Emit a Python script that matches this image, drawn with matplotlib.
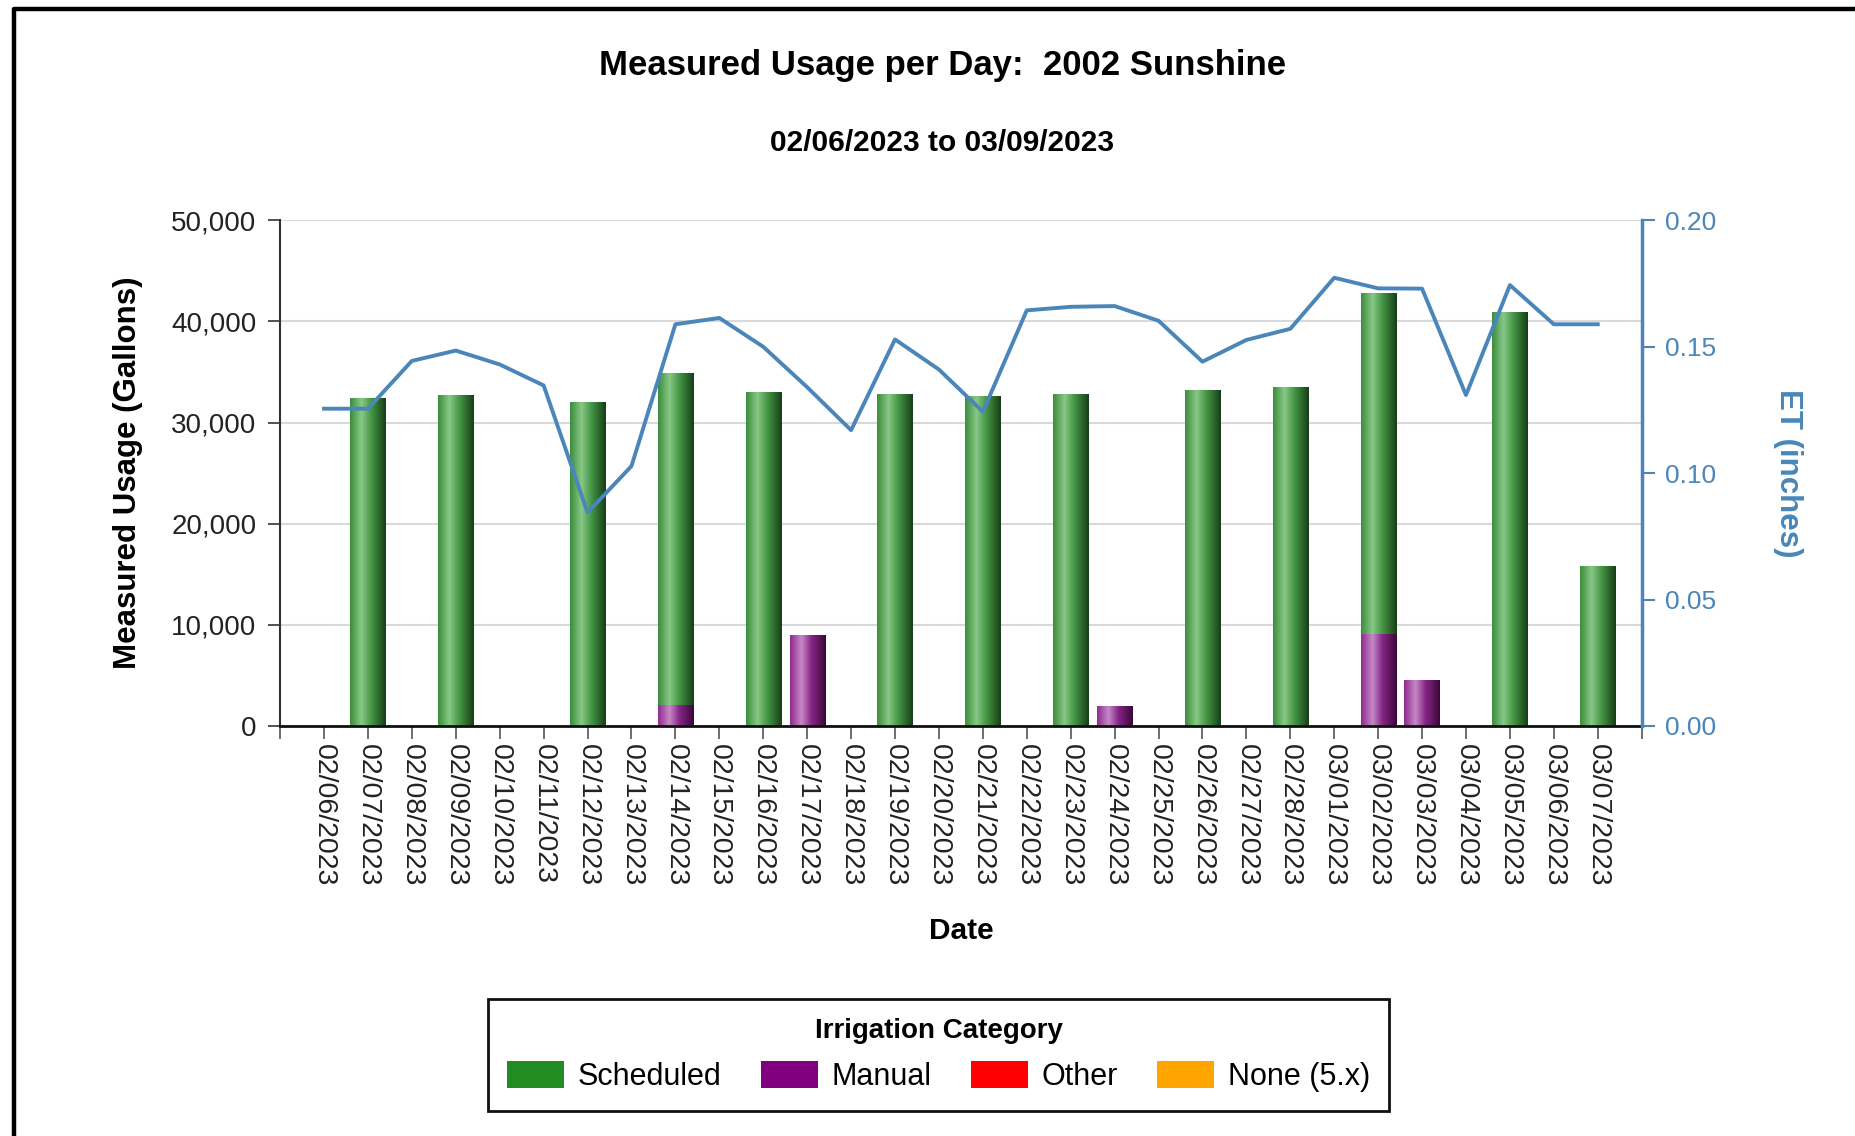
import numpy as np
import matplotlib
matplotlib.use('Agg')
import matplotlib.pyplot as plt
from matplotlib.colors import LinearSegmentedColormap
from matplotlib.patches import Patch
from matplotlib.lines import Line2D
from matplotlib.ticker import FuncFormatter

# ---------------- data ----------------
dates = ['02/06/2023', '02/07/2023', '02/08/2023', '02/09/2023', '02/10/2023',
         '02/11/2023', '02/12/2023', '02/13/2023', '02/14/2023', '02/15/2023',
         '02/16/2023', '02/17/2023', '02/18/2023', '02/19/2023', '02/20/2023',
         '02/21/2023', '02/22/2023', '02/23/2023', '02/24/2023', '02/25/2023',
         '02/26/2023', '02/27/2023', '02/28/2023', '03/01/2023', '03/02/2023',
         '03/03/2023', '03/04/2023', '03/05/2023', '03/06/2023', '03/07/2023']

scheduled = [0, 32350, 0, 32650, 0, 0, 32000, 0, 32760, 0,
             32950, 0, 0, 32750, 0, 32550, 0, 32800, 0, 0,
             33150, 0, 33450, 0, 33700, 0, 0, 40900, 0, 15750]

manual = [0, 0, 0, 0, 0, 0, 0, 0, 2080, 0,
          0, 8930, 0, 0, 0, 0, 0, 0, 1940, 0,
          0, 0, 0, 0, 9100, 4500, 0, 0, 0, 0]

other = [0] * 30
none_5x = [0] * 30

et_inches = [0.1255, 0.1255, 0.1444, 0.1485, 0.1430, 0.1347, 0.0844, 0.1028, 0.1589, 0.1614,
             0.1500, 0.1340, 0.1170, 0.1529, 0.1410, 0.1243, 0.1644, 0.1658, 0.1661, 0.1603,
             0.1441, 0.1527, 0.1571, 0.1773, 0.1731, 0.1730, 0.1309, 0.1744, 0.1589, 0.1589]

categories = ['Scheduled', 'Manual', 'Other', 'None (5.x)']
cat_colors = ['#228b22', '#800080', '#ff0000', '#ffa500']

title = 'Measured Usage per Day:  2002 Sunshine'
subtitle = '02/06/2023 to 03/09/2023'

# ---------------- style ----------------
plt.rcParams['font.family'] = ['Liberation Sans', 'DejaVu Sans']
et_color = '#4a86b9'

fig = plt.figure(figsize=(18.55, 11.36), dpi=100)
ax = fig.add_axes([0.151, 0.361, 0.734, 0.445])

x = np.arange(len(dates))
bar_w = 0.8

green_cmap = LinearSegmentedColormap.from_list(
    'g', [(0.0, '#3a8d3a'), (0.32, '#88c888'), (0.6, '#449544'), (1.0, '#173d17')])
purple_cmap = LinearSegmentedColormap.from_list(
    'p', [(0.0, '#8e2a8e'), (0.32, '#c689c6'), (0.6, '#852585'), (1.0, '#3a0838')])

bottom_other = np.array(manual) + np.array(scheduled)
b_man = ax.bar(x, manual, width=bar_w, color=cat_colors[1], zorder=2)
b_sch = ax.bar(x, scheduled, bottom=manual, width=bar_w, color=cat_colors[0], zorder=2)
ax.bar(x, other, bottom=bottom_other, width=bar_w, color=cat_colors[2], zorder=2)
ax.bar(x, none_5x, bottom=bottom_other + np.array(other), width=bar_w, color=cat_colors[3], zorder=2)

gradient = np.linspace(0, 1, 256).reshape(1, -1)
for bars, cmap in [(b_man, purple_cmap), (b_sch, green_cmap)]:
    for r in bars:
        h = r.get_height()
        if h <= 0:
            continue
        x0, y0, w = r.get_x(), r.get_y(), r.get_width()
        ax.imshow(gradient, cmap=cmap, extent=(x0, x0 + w, y0, y0 + h),
                  aspect='auto', zorder=2.1, interpolation='bilinear')

ax.set_xlim(-1, len(dates))
ax.set_ylim(0, 50000)
ax.set_yticks(np.arange(0, 50001, 10000))
ax.yaxis.set_major_formatter(FuncFormatter(lambda v, p: f'{int(v):,}'))
ax.set_xticks(np.arange(-1, len(dates) + 1))
ax.set_xticklabels([''] + dates + [''], rotation=-90)
ax.yaxis.grid(True, color='#d9d9d9', lw=1.5)
ax.set_axisbelow(True)
for s in ['top', 'right']:
    ax.spines[s].set_visible(False)
ax.spines['left'].set_color('#333333')
ax.spines['left'].set_linewidth(1.5)
ax.spines['bottom'].set_color('#111111')
ax.spines['bottom'].set_linewidth(2)
ax.tick_params(axis='y', labelsize=20, length=9, width=1.2, pad=8, colors='#333333', labelcolor='#222222')
ax.tick_params(axis='x', labelsize=20.5, length=9, width=1.2, pad=4, colors='#555555', labelcolor='#222222')
ax.set_ylabel('Measured Usage (Gallons)', fontsize=22.5, weight='bold', labelpad=20)
ax.set_xlabel('Date', fontsize=21.5, weight='bold', labelpad=22)

ax2 = ax.twinx()
ax2.plot(x, et_inches, color=et_color, lw=2.8, zorder=3)
ax2.set_ylim(0, 0.20)
ax2.set_yticks(np.arange(0, 0.2001, 0.05))
ax2.yaxis.set_major_formatter(FuncFormatter(lambda v, p: f'{v:.2f}'))
for s in ['top', 'left', 'bottom']:
    ax2.spines[s].set_visible(False)
ax2.spines['right'].set_color(et_color)
ax2.spines['right'].set_linewidth(2.5)
ax2.tick_params(axis='y', labelsize=19, length=9, width=1.5, pad=8, colors=et_color)
ax2.set_ylabel('ET (inches)', fontsize=22.5, weight='bold', color=et_color, rotation=-90, labelpad=62)

fig.text(0.508, 0.942, title, fontsize=25, weight='bold', ha='center', va='center')
fig.text(0.508, 0.874, subtitle, fontsize=21.5, weight='bold', ha='center', va='center')

handles = [Patch(facecolor=c, edgecolor='none') for c in cat_colors]
leg = fig.legend(handles, categories, loc='center', bbox_to_anchor=(0.506, 0.0713),
                 ncol=4, fontsize=22, title='Irrigation Category',
                 title_fontproperties={'weight': 'bold', 'size': 20},
                 frameon=True, fancybox=False, edgecolor='#111111', framealpha=1,
                 handlelength=1.85, handleheight=1.0, handletextpad=0.45,
                 columnspacing=1.3, borderpad=0.5, labelspacing=0.6)
leg.get_frame().set_linewidth(2)
leg._legend_box.sep = 12
leg._legend_box.pad = 14

# outer frame border
fig.add_artist(Line2D([0.0075, 0.0075, 1.0], [0.0, 0.9925, 0.9925],
                      transform=fig.transFigure, color='black', lw=3.2))

fig.savefig('out.png', dpi=100)
